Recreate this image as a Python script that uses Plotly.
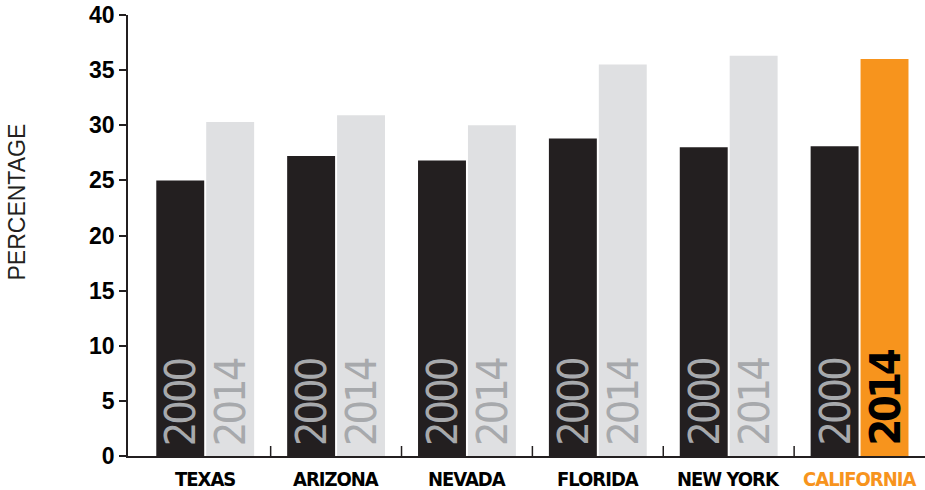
import plotly.graph_objects as go

states = ["TEXAS", "ARIZONA", "NEVADA", "FLORIDA", "NEW YORK", "CALIFORNIA"]
pct_2000 = [25.0, 27.2, 26.8, 28.8, 28.0, 28.1]
pct_2014 = [30.3, 30.9, 30.0, 35.5, 36.3, 36.0]
years = ["2000", "2014"]
y_ticks = [0, 5, 10, 15, 20, 25, 30, 35, 40]

DARK = "#231f20"
LIGHT = "#dfe0e2"
ORANGE = "#f7941d"
GREY_TXT = "#a7a9ac"
COND = "DejaVu Sans Condensed, Liberation Sans Narrow, sans-serif"

xs = list(range(len(states)))
hi = len(states) - 1
boundaries = [i + 0.5 for i in xs[:-1]]

fig = go.Figure()
fig.add_trace(go.Bar(x=xs, y=pct_2000, name=years[0], marker=dict(color=DARK, line_width=0)))
fig.add_trace(go.Bar(x=xs, y=pct_2014, name=years[1],
                     marker=dict(color=[ORANGE if i == hi else LIGHT for i in xs], line_width=0)))

bargap = 0.237
slot = (1 - bargap) / 2
annotations = []
for i in xs:
    for k, yr in enumerate(years):
        off = (k - 0.5) * slot
        if i == hi and k == 1:
            col = "#000000"
            txt = '<span style="letter-spacing:-3.5px"><b>%s</b></span>' % yr
        else:
            col = GREY_TXT
            txt = '<span style="letter-spacing:-3px">%s</span>' % yr
        annotations.append(dict(
            x=i + off, y=0, xref="x", yref="y", text=txt, showarrow=False,
            textangle=-90, xanchor="center", yanchor="bottom", yshift=8,
            font=dict(family=COND, size=43, color=col)))

# category labels under each group
for i, s in enumerate(states):
    annotations.append(dict(
        x=i, y=0, xref="x", yref="paper", showarrow=False,
        text='<span style="letter-spacing:-1px"><b>%s</b></span>' % s,
        xanchor="center", yanchor="top", yshift=-9,
        font=dict(family=COND, size=20, color=ORANGE if i == hi else "#000000")))

annotations.append(dict(
    x=-(128 - 16) / 797, y=(456 - 202.5) / 441, xref="paper", yref="paper",
    text="PERCENTAGE", showarrow=False, textangle=-90,
    xanchor="center", yanchor="middle",
    font=dict(family="Liberation Sans, Arial, sans-serif", size=23, color=DARK)))

# small upward tick marks between the state groups
shapes = [dict(type="line", xref="x", yref="paper", x0=b, x1=b, y0=0, y1=10 / 441,
               line=dict(color=DARK, width=1.5), layer="above") for b in boundaries]

fig.update_layout(
    width=925, height=490,
    margin=dict(l=128, r=0, t=15, b=34),
    paper_bgcolor="white", plot_bgcolor="white",
    barmode="group", bargap=bargap, bargroupgap=0.04,
    showlegend=False,
    annotations=annotations,
    shapes=shapes,
    xaxis=dict(
        range=[-0.59, 5.5], tickmode="array", tickvals=boundaries,
        ticktext=["" for _ in boundaries], ticks="",
        showgrid=False, zeroline=False,
        showline=True, linecolor=DARK, linewidth=1.5,
    ),
    yaxis=dict(
        range=[0, 40], tickmode="array", tickvals=y_ticks,
        ticks="outside", ticklen=7, tickwidth=1.5, tickcolor=DARK,
        showgrid=False, zeroline=False,
        showline=True, linecolor=DARK, linewidth=1.5,
        tickfont=dict(family="Liberation Sans, Arial, sans-serif", size=23,
                      color="#000000", weight="bold"),
    ),
)

fig.write_html("out.html")
